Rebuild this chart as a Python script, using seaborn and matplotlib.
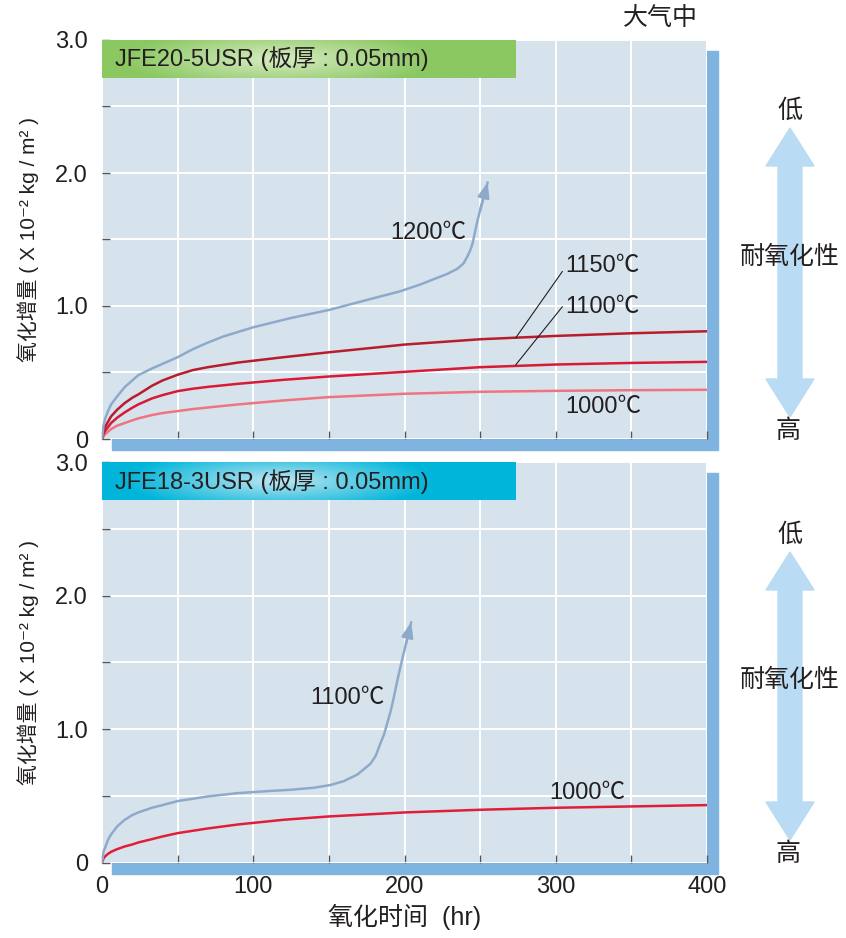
import numpy as np
import pandas as pd
import seaborn as sns
import matplotlib
matplotlib.use("Agg")
from matplotlib import pyplot as plt
from matplotlib.patches import Rectangle, Polygon
from matplotlib.ticker import MultipleLocator, FuncFormatter

# ---- data ----
# JFE20-5USR
top_1200_t = [0, 1, 2, 4, 6, 10, 15, 20, 24, 33, 40, 50, 60, 70, 80, 90, 100, 125, 150, 175,
              197, 210, 219, 228, 235, 239, 241.5, 243.5, 245, 246.5, 248, 250, 255]
top_1200_v = [0, 0.10, 0.15, 0.21, 0.26, 0.32, 0.39, 0.44, 0.48, 0.53, 0.565, 0.615, 0.675, 0.725, 0.77, 0.805, 0.84, 0.91, 0.97, 1.045,
              1.11, 1.16, 1.20, 1.24, 1.28, 1.32, 1.37, 1.42, 1.47, 1.55, 1.63, 1.72, 1.93]
top_t = [0, 1, 2, 4, 6, 10, 15, 20, 24, 33, 40, 50, 60, 70, 90, 120, 150, 200, 250, 300, 350, 400]
top_1150_v = [0, 0.06, 0.09, 0.13, 0.17, 0.22, 0.27, 0.31, 0.335, 0.40, 0.44, 0.483, 0.518, 0.54, 0.575, 0.615, 0.652, 0.71, 0.75, 0.775, 0.795, 0.81]
top_1100_v = [0, 0.04, 0.06, 0.09, 0.12, 0.16, 0.20, 0.235, 0.26, 0.305, 0.33, 0.36, 0.378, 0.392, 0.415, 0.445, 0.47, 0.505, 0.54, 0.56, 0.572, 0.58]
top_1000_v = [0, 0.02, 0.035, 0.055, 0.075, 0.10, 0.12, 0.14, 0.155, 0.18, 0.195, 0.21, 0.225, 0.237, 0.26, 0.29, 0.315, 0.34, 0.355, 0.362, 0.367, 0.37]

# JFE18-3USR
bot_1100_t = [0, 1, 2, 4, 6, 10, 15, 20, 24, 33, 40, 50, 70, 90, 110, 125, 140, 151, 160, 169,
              177.5, 181, 184, 186.5, 188.5, 191, 193, 195, 197.4, 201, 204.4]
bot_1100_v = [0, 0.08, 0.11, 0.17, 0.21, 0.27, 0.32, 0.355, 0.375, 0.41, 0.43, 0.46, 0.495, 0.52, 0.535, 0.545, 0.56, 0.58, 0.61, 0.66,
              0.74, 0.80, 0.89, 0.96, 1.04, 1.14, 1.24, 1.35, 1.47, 1.64, 1.80]
bot_t = [0, 1, 2, 4, 6, 10, 15, 20, 24, 33, 40, 50, 70, 90, 120, 150, 200, 250, 300, 350, 400]
bot_1000_v = [0, 0.03, 0.045, 0.065, 0.08, 0.10, 0.12, 0.135, 0.15, 0.175, 0.195, 0.22, 0.255, 0.285, 0.32, 0.345, 0.375, 0.395, 0.41, 0.42, 0.43]

titles = ["JFE20-5USR (板厚 : 0.05mm)", "JFE18-3USR (板厚 : 0.05mm)"]
ylabel = "氧化增量 ( X 10⁻² kg / m² )"
xlabel = "氧化时间  (hr)"

BLUE = "#8eaacb"
C1150 = "#b81d2c"
C1100 = "#d81a34"
C1000 = "#ef7480"
SHADOW = "#7fb3e0"
BG = "#d6e3ed"
INK = "#231f20"

sns.set_style("darkgrid", {"axes.facecolor": BG, "grid.color": "white"})
plt.rcParams["font.family"] = ["Liberation Sans", "Noto Sans CJK SC", "DejaVu Sans"]

W, H = 846, 938
fig = plt.figure(figsize=(W / 100, H / 100), dpi=100)


def px(x, y):
    return x / W, 1 - y / H


def make_axes(top, bottom):
    l, b = px(102, bottom)
    ax = fig.add_axes([l, b, 605 / W, (bottom - top) / H])
    # drop shadow behind the panel
    sx, sy = px(112, bottom + 11)
    fig.add_artist(Rectangle((sx, sy), 606 / W, (bottom - top) / H,
                             transform=fig.transFigure, color=SHADOW, zorder=-5))
    return ax


def style_axes(ax, show_x):
    ax.set_xlim(0, 400)
    ax.set_ylim(0, 3.0)
    ax.xaxis.set_major_locator(MultipleLocator(50))
    ax.yaxis.set_major_locator(MultipleLocator(0.5))
    ax.yaxis.set_major_formatter(FuncFormatter(
        lambda v, p: "0" if v == 0 else (f"{v:.1f}" if abs(v - round(v)) < 1e-6 else "")))
    if show_x:
        ax.xaxis.set_major_formatter(FuncFormatter(
            lambda v, p: f"{int(v)}" if int(v) % 100 == 0 else ""))
    else:
        ax.xaxis.set_major_formatter(FuncFormatter(lambda v, p: ""))
    ax.tick_params(axis="both", direction="in", length=6, width=1, color="#555555",
                   labelsize=17, labelcolor=INK, left=True, bottom=True)
    ax.tick_params(axis="y", pad=10)
    ax.grid(True, color="white", lw=1.4)
    for s in ax.spines.values():
        s.set_visible(False)
    ax.set_xlabel("")
    ax.set_ylabel(ylabel, fontsize=15, labelpad=12, color=INK)


def header(ax, text, edge, center):
    nx, ny = 300, 40
    xx, yy = np.meshgrid(np.linspace(-1, 1, nx), np.linspace(-1, 1, ny))
    r = np.sqrt(((xx + 0.15) / 0.75) ** 2 + (yy / 1.6) ** 2)
    w = np.clip(1 - r, 0, 1)[..., None]
    img = np.array(matplotlib.colors.to_rgb(edge)) * (1 - w) + np.array(matplotlib.colors.to_rgb(center)) * w
    ax.imshow(img, extent=[0, 0.683, 0.905, 1.0], transform=ax.transAxes,
              aspect="auto", zorder=3, interpolation="bilinear")
    ax.text(0.022, 0.952, text, transform=ax.transAxes, fontsize=17,
            va="center", ha="left", color=INK, zorder=4)


def curve(ax, t, v, color, arrow=False):
    df = pd.DataFrame({"t": t, "v": v})
    sns.lineplot(data=df, x="t", y="v", ax=ax, color=color, lw=1.8, zorder=5)
    if arrow:
        ax.annotate("", xy=(t[-1], v[-1]), xytext=(t[-2], v[-2]),
                    arrowprops=dict(arrowstyle="-|>,head_length=0.9,head_width=0.35",
                                    color=color, lw=1.8, shrinkA=0, shrinkB=0), zorder=6)


def side_arrow(y_top, y_bot, xc=790):
    hw, sw, hl = 24, 12, 38
    pts = [(xc, y_top), (xc + hw, y_top + hl), (xc + sw, y_top + hl),
           (xc + sw, y_bot - hl), (xc + hw, y_bot - hl), (xc, y_bot),
           (xc - hw, y_bot - hl), (xc - sw, y_bot - hl), (xc - sw, y_top + hl),
           (xc - hw, y_top + hl)]
    fig.add_artist(Polygon([px(*p) for p in pts], closed=True,
                           transform=fig.transFigure, color="#b9dbf3", zorder=1))
    fig.text(*px(xc, y_top - 17), "低", fontsize=18, ha="center", va="center", color=INK)
    fig.text(*px(xc - 2, y_bot + 14), "高", fontsize=18, ha="center", va="center", color=INK)
    fig.text(*px(xc, (y_top + y_bot) / 2 - 16), "耐氧化性", fontsize=18,
             ha="center", va="center", color=INK, zorder=2)


txt = dict(fontsize=17, color=INK, zorder=7)

# ---- top panel ----
ax1 = make_axes(40, 439)
curve(ax1, top_t, top_1000_v, C1000)
curve(ax1, top_t, top_1100_v, C1100)
curve(ax1, top_t, top_1150_v, C1150)
curve(ax1, top_1200_t, top_1200_v, BLUE, arrow=True)
header(ax1, titles[0], "#8bc862", "#d8ecc3")
style_axes(ax1, show_x=False)
ax1.text(216, 1.55, "1200℃", ha="center", va="center", **txt)
ax1.text(306, 1.30, "1150℃", ha="left", va="center", **txt)
ax1.text(306, 0.995, "1100℃", ha="left", va="center", **txt)
ax1.text(306, 0.24, "1000℃", ha="left", va="center", **txt)
ax1.plot([273.5, 304.4], [0.76, 1.26], color=INK, lw=0.8, zorder=6)
ax1.plot([273.5, 304.4], [0.557, 0.995], color=INK, lw=0.8, zorder=6)

# ---- bottom panel ----
ax2 = make_axes(462, 862.5)
curve(ax2, bot_t, bot_1000_v, "#e01e3a")
curve(ax2, bot_1100_t, bot_1100_v, BLUE, arrow=True)
header(ax2, titles[1], "#00b5da", "#bfe6f2")
style_axes(ax2, show_x=True)
ax2.tick_params(axis="x", pad=10)
ax2.text(162, 1.23, "1100℃", ha="center", va="center", **txt)
ax2.text(321, 0.52, "1000℃", ha="center", va="center", **txt)
ax2.set_xlabel(xlabel, fontsize=18, labelpad=4, color=INK)

fig.text(*px(660, 18), "大气中", fontsize=18, ha="center", va="center", color=INK)
side_arrow(128, 417)
side_arrow(552, 840)

fig.savefig("out.png", dpi=100)
